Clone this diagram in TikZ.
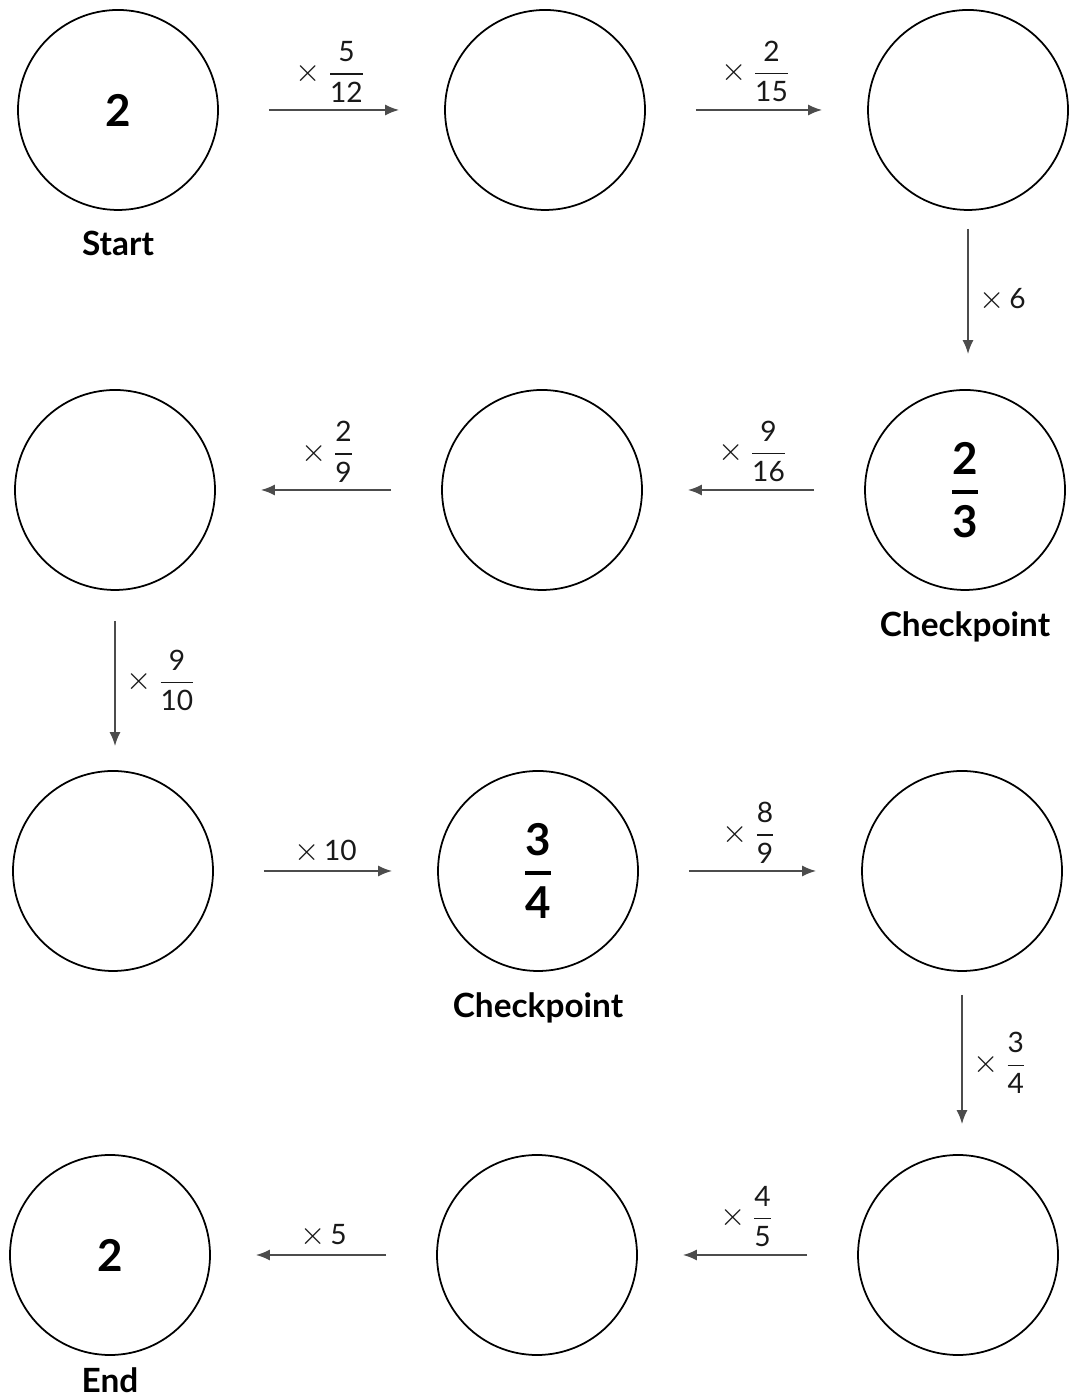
\documentclass[tikz,border=0pt]{standalone}
\usepackage{amsmath}
\usepackage{fontspec}
\setmainfont{Lato}
\usetikzlibrary{positioning, arrows.meta}

\newcommand{\fr}[2]{$\displaystyle\frac{\mbox{#1}}{\mbox{#2}}$}
\newcommand{\bigfr}[2]{$\genfrac{}{}{1.1pt}{0}{\mbox{#1}}{\mbox{#2}}$}
\newcommand{\tms}{{\fontsize{9.5}{10}\selectfont$\times$}\,}

\begin{document}
\begin{tikzpicture}[
    >={Latex[length=1.4mm, width=1.1mm]},
    % Styles
    stop/.style={circle, draw, line width=0.5pt, minimum size=2cm, inner sep=0pt, font=\fontsize{12.5}{14}\selectfont\bfseries},
    tag/.style={font=\fontsize{9.5}{11}\selectfont\bfseries, inner sep=0pt},
    arr/.style={->, draw=black!70, line width=0.5pt},
    hop/.style={arr, shorten <=0.5cm, shorten >=0.45cm},
    op/.style={font=\fontsize{8}{10}\selectfont, inner sep=1pt, text=black!90}
]
\useasboundingbox (0,0) rectangle (10.72,13.95);

% 1. Circles, row by row
\node[stop] (c1) at (1.18,12.85) {2};
\node[stop] (c2) at (5.45,12.85) {};
\node[stop] (c3) at (9.68,12.85) {};

\node[stop] (c4) at (9.65,9.05) {\bigfr{2}{3}};
\node[stop] (c5) at (5.42,9.05) {};
\node[stop] (c6) at (1.15,9.05) {};

\node[stop] (c7) at (1.13,5.24) {};
\node[stop] (c8) at (5.38,5.24) {\bigfr{3}{4}};
\node[stop] (c9) at (9.62,5.24) {};

\node[stop] (c10) at (9.58,1.40) {};
\node[stop] (c11) at (5.37,1.40) {};
\node[stop] (c12) at (1.10,1.40) {2};

% 2. Tags under circles
\node[tag, below=0.2cm of c1] (start) {Start};
\node[tag, below=0.2cm of c4] (chk1) {Checkpoint};
\node[tag, below=0.2cm of c8] (chk2) {Checkpoint};
\node[tag, below=0.11cm of c12] (end) {End};

% 3. Horizontal steps
\draw[hop] (c1) -- node[op, above=1pt] (m1) {\tms\fr{5}{12}} (c2);
\draw[hop] (c2) -- node[op, above=1pt] (m2) {\tms\fr{2}{15}} (c3);
\draw[hop] (c4) -- node[op, above=1pt] (m4) {\tms\fr{9}{16}} (c5);
\draw[hop] (c5) -- node[op, above=1pt] (m5) {\tms\fr{2}{9}} (c6);
\draw[hop] (c7) -- node[op, above=1pt] (m7) {\tms10} (c8);
\draw[hop] (c8) -- node[op, above=1pt] (m8) {\tms\fr{8}{9}} (c9);
\draw[hop] (c10) -- node[op, above=1pt] (m10) {\tms\fr{4}{5}} (c11);
\draw[hop] (c11) -- node[op, above=1pt] (m11) {\tms5} (c12);

% 4. Vertical steps
\draw[arr, shorten <=0.18cm, shorten >=0.35cm] (c3.south) -- node[op, right=2pt] (m3) {\tms6} (c3.south |- c4.north);
\draw[arr, shorten <=0.30cm, shorten >=0.24cm] (c6.south) -- node[op, right=2pt] (m6) {\tms\fr{9}{10}} (c6.south |- c7.north);
\draw[arr, shorten <=0.23cm, shorten >=0.30cm] (c9.south) -- node[op, right=2pt] (m9) {\tms\fr{3}{4}} (c9.south |- c10.north);

\end{tikzpicture}
\end{document}
